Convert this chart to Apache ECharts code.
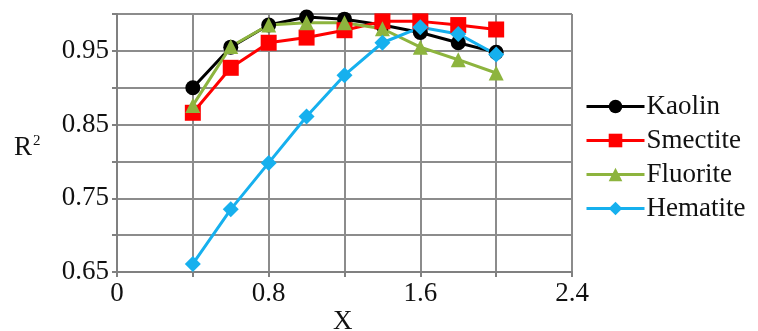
<!DOCTYPE html>
<html><head><meta charset="utf-8">
<script src="https://cdn.jsdelivr.net/npm/echarts@6/dist/echarts.min.js"></script>
<style>html,body{margin:0;padding:0;background:#fff}#c{width:758px;height:331px}</style>
</head><body><div id="c"></div>
<script>
const xValues = [0.4, 0.6, 0.8, 1.0, 1.2, 1.4, 1.6, 1.8, 2.0];
const kaolin   = [0.900, 0.955, 0.985, 0.996, 0.993, 0.985, 0.975, 0.961, 0.948];
const smectite = [0.866, 0.927, 0.961, 0.968, 0.978, 0.990, 0.990, 0.985, 0.979];
const fluorite = [0.876, 0.956, 0.985, 0.988, 0.988, 0.980, 0.955, 0.938, 0.920];
const hematite = [0.661, 0.735, 0.798, 0.861, 0.917, 0.961, 0.982, 0.973, 0.945];
const seriesNames = ['Kaolin', 'Smectite', 'Fluorite', 'Hematite'];

const font = 'Liberation Serif, Times New Roman, serif';
const pair = arr => xValues.map((x, i) => [x, arr[i]]);
const mk = (name, data, color, symbol, size) => ({
  name, type: 'line', data: pair(data), symbol, symbolSize: size,
  lineStyle: { color, width: 3 }, itemStyle: { color }, z: 3
});
const chart = echarts.init(document.getElementById('c'));
chart.setOption({
  animation: false,
  grid: { left: 117, top: 14, right: 186, bottom: 59 },
  legend: {
    orient: 'vertical', left: 580, top: 88, itemWidth: 58, itemHeight: 17, itemGap: 7,
    lineStyle: { width: 3 },
    textStyle: { fontFamily: font, fontSize: 27, color: '#111', padding: [0,0,0,-3] },
    data: seriesNames
  },
  xAxis: {
    type: 'value', min: 0, max: 2.4, interval: 0.4,
    axisLine: { show: true, lineStyle: { color: '#808080', width: 2 } },
    axisTick: { show: true, length: 5, lineStyle: { color: '#808080', width: 2 } },
    splitLine: { show: true, lineStyle: { color: '#8c8c8c', width: 2 } },
    axisLabel: { fontFamily: font, fontSize: 27, color: '#111', margin: 8,
      formatter: (v, i) => (Math.round(v * 10) % 8 === 0 ? String(Math.round(v*10)/10) : '') }
  },
  yAxis: {
    type: 'value', min: 0.65, max: 1.0, interval: 0.05,
    axisLine: { show: true, lineStyle: { color: '#808080', width: 2 } },
    axisTick: { show: true, length: 5, lineStyle: { color: '#808080', width: 2 } },
    splitLine: { show: true, lineStyle: { color: '#8c8c8c', width: 2 } },
    axisLabel: { fontFamily: font, fontSize: 27, color: '#111', margin: 8,
      formatter: (v) => { const k = Math.round(v * 100); return (k % 10 === 5) ? v.toFixed(2) : ''; } }
  },
  graphic: [
    { type: 'text', left: 14, top: 134, style: { text: 'R{s|2}', font: '27px ' + font, fill: '#111',
      rich: { s: { fontSize: 15, fontFamily: font, verticalAlign: 'top', padding: [0,0,12,1] } } } },
    { type: 'text', left: 333, top: 308, style: { text: 'X', font: '27px ' + font, fill: '#111' } }
  ],
  series: [
    mk('Kaolin', kaolin, '#000000', 'circle', 15),
    mk('Smectite', smectite, '#ff0000', 'rect', 16),
    mk('Fluorite', fluorite, '#8db43e', 'triangle', 15),
    mk('Hematite', hematite, '#16b0ee', 'diamond', 16)
  ]
});
</script></body></html>
